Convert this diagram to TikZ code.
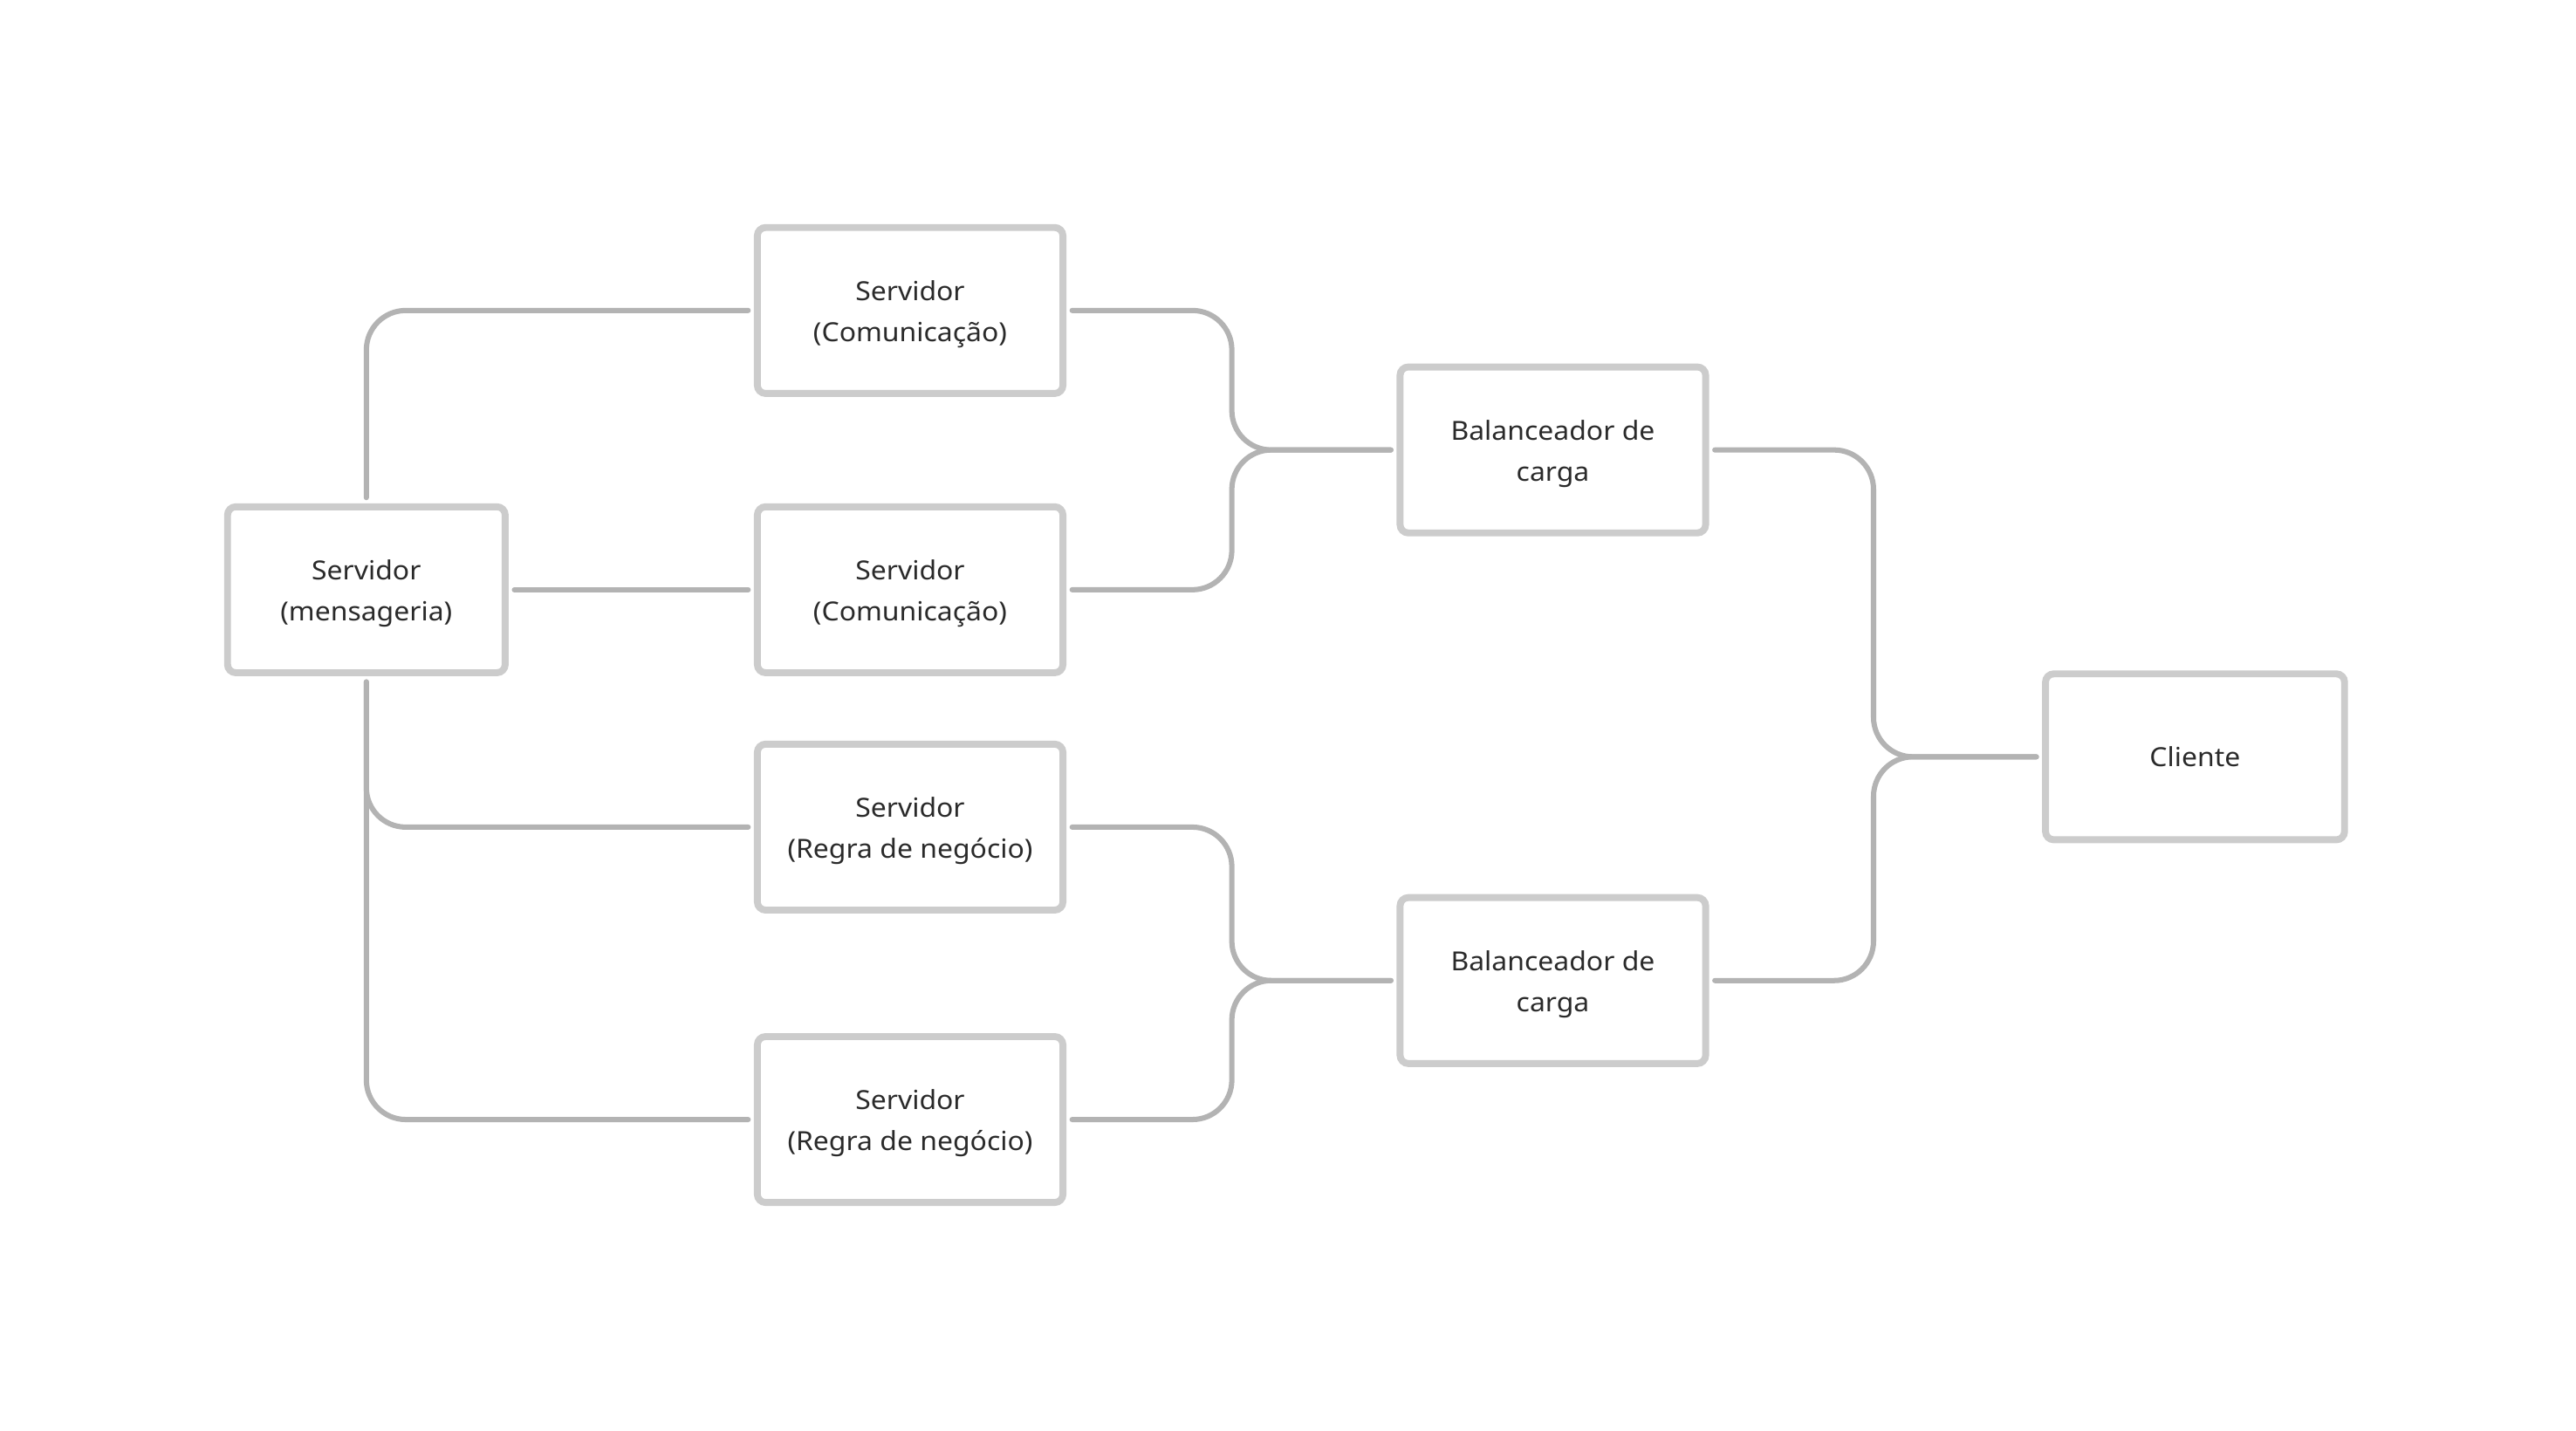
\documentclass[tikz,border=0pt]{standalone}
\usepackage{fontspec}
\setmainfont{Noto Sans}[FakeStretch=1.06]
\usetikzlibrary{calc}
\definecolor{boxgray}{HTML}{CCCCCC}
\definecolor{linegray}{HTML}{B3B3B3}
\definecolor{txtgray}{HTML}{2A2A2A}
\tikzset{
  srvbox/.style={draw=boxgray, line width=4.2bp, rounded corners=5bp, fill=white,
    minimum width=186bp, minimum height=101bp, align=center, text=txtgray,
    font=\fontsize{16bp}{25bp}\selectfont, inner sep=0pt},
  twoline/.style={text height=40bp, text depth=2.2bp},
  conn/.style={draw=linegray, line width=3.2bp, line cap=round, rounded corners=24bp,
    shorten <=3.5bp, shorten >=3.5bp}
}
\begin{document}
\begin{tikzpicture}[x=1bp,y=-1bp]
\useasboundingbox[fill=white] (0,0) rectangle (1568,871);
\node[srvbox, twoline, minimum width=169bp] (msg) at (223,359) {Servidor\\(mensageria)};
\node[srvbox, twoline] (comm1) at (554,189) {Servidor\\(Comunicação)};
\node[srvbox, twoline] (comm2) at (554,359) {Servidor\\(Comunicação)};
\node[srvbox, twoline] (regra1) at (554,503.5) {Servidor\\(Regra de negócio)};
\node[srvbox, twoline] (regra2) at (554,681.5) {Servidor\\(Regra de negócio)};
\node[srvbox, twoline] (bal1) at (945.2,273.9) {Balanceador de\\carga};
\node[srvbox, twoline] (bal2) at (945.2,596.9) {Balanceador de\\carga};
\node[srvbox, minimum width=182bp] (cli) at (1336.1,460.7) {Cliente};
\coordinate (j1) at (749.8,273.9);
\coordinate (j2) at (749.8,596.9);
\coordinate (j3) at (1140.4,460.7);
% left connectors
\draw[conn] (msg.north) |- (comm1.west);
\draw[conn] (msg.east) -- (comm2.west);
\draw[conn] (msg.south) |- (regra1.west);
\draw[conn] (msg.south) |- (regra2.west);
% to balancers
\draw[conn] (comm1.east) -| (j1) -- (bal1.west);
\draw[conn] (comm2.east) -| (j1) -- (bal1.west);
\draw[conn] (regra1.east) -| (j2) -- (bal2.west);
\draw[conn] (regra2.east) -| (j2) -- (bal2.west);
% to client
\draw[conn] (bal1.east) -| (j3) -- (cli.west);
\draw[conn] (bal2.east) -| (j3) -- (cli.west);
\end{tikzpicture}
\end{document}
